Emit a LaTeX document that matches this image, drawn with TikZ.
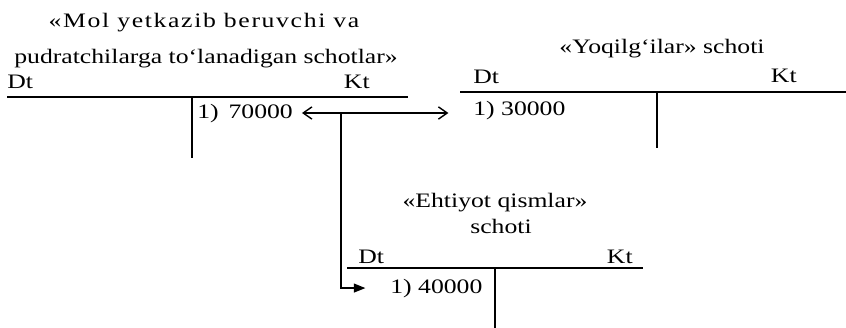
\documentclass[tikz,border=0pt]{standalone}
\usepackage{fontspec}
\setmainfont{Liberation Serif}[FakeStretch=1.25]
\usetikzlibrary{arrows.meta,positioning}

\begin{document}
\begin{tikzpicture}[
  x=0.02cm, y=-0.02cm,
  tline/.style={line width=0.9pt},
  lbl/.style={inner sep=0pt, font=\fontsize{11.7}{14}\selectfont},
  dbl/.style={{Straight Barb[length=5pt,width=7pt]}-{Straight Barb[length=5pt,width=7pt]}, line width=0.8pt},
  arr/.style={-{Triangle[length=6.5pt,width=5pt]}, line width=0.8pt}
]
\useasboundingbox (0,0) rectangle (846,328);

% Mol yetkazib beruvchi
\node[lbl,anchor=base](tmola) at (204,28){\addfontfeature{LetterSpace=8}«Mol yetkazib beruvchi va};
\node[lbl,anchor=base](tmolb) at (206,63){pudratchilarga to‘lanadigan schotlar»};
\node[lbl,anchor=base west](dtmol) at (7,88){Dt};
\node[lbl,anchor=base east](ktmol) at (370,88){Kt};
\coordinate (mol1) at (7,97);
\coordinate (mol2) at (408,97);
\coordinate (mol3) at (192,97);
\coordinate (mol4) at (192,158);
\draw[tline](mol1)--(mol2);
\draw[tline](mol3)--(mol4);
\node[lbl,anchor=base west](kmol) at (197,118){1)~\,70000};

% Yoqilg'ilar
\node[lbl,anchor=base](tyoq) at (662,53){«Yoqilg‘ilar» schoti};
\node[lbl,anchor=base west](dtyoq) at (473,83){Dt};
\node[lbl,anchor=base east](ktyoq) at (797,82){Kt};
\coordinate (yoq1) at (460,92);
\coordinate (yoq2) at (846,92);
\coordinate (yoq3) at (657,92);
\coordinate (yoq4) at (657,148);
\draw[tline](yoq1)--(yoq2);
\draw[tline](yoq3)--(yoq4);
\node[lbl,anchor=base west](dyoq) at (473,115){1) 30000};

% Ehtiyot qismlar
\node[lbl,anchor=base](tehta) at (495,207){«Ehtiyot qismlar»};
\node[lbl,anchor=base](tehtb) at (501,233){schoti};
\node[lbl,anchor=base west](dteht) at (358,263){Dt};
\node[lbl,anchor=base east](kteht) at (633,263){Kt};
\coordinate (eht1) at (347,268);
\coordinate (eht2) at (643,268);
\coordinate (eht3) at (495,268);
\coordinate (eht4) at (495,328);
\draw[tline](eht1)--(eht2);
\draw[tline](eht3)--(eht4);
\node[lbl,anchor=base west](deht) at (390,293){1) 40000};

% provodkalar
\coordinate (br) at (341,113);
\draw[dbl,shorten <=5pt,shorten >=14pt](kmol.east |- br)--(dyoq.west |- br);
\draw[arr,shorten >=14pt](br) |- (deht.west);
\end{tikzpicture}
\end{document}
